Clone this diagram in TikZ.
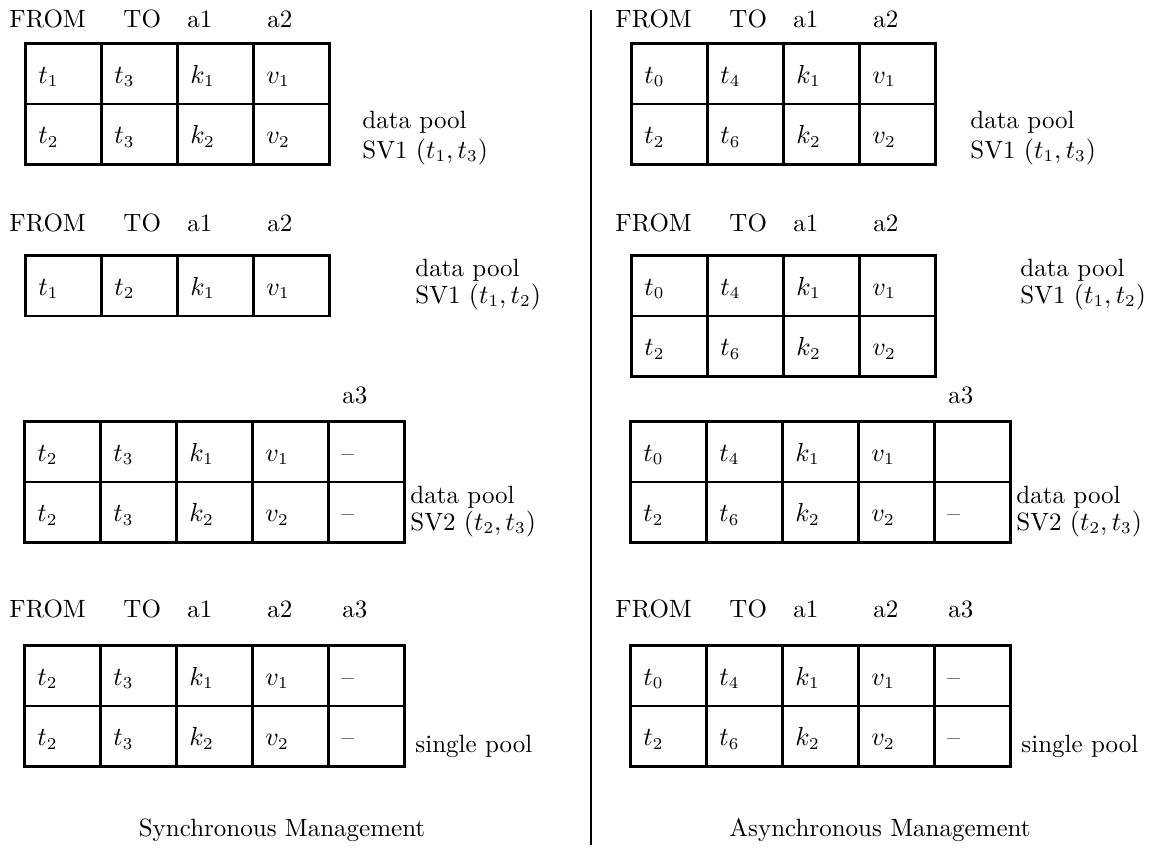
\documentclass[tikz,border=0pt]{standalone}
\newcommand\pxu{0.42pt}
\tikzset{
  every node/.style={font=\fontsize{10.5}{12.6}\selectfont, inner sep=0pt},
  cellbox/.style={draw, line width=1.1pt, minimum width=76*\pxu, minimum height=60.5*\pxu, anchor=north west},
  celltext/.style={anchor=base west},
  headtext/.style={anchor=base west},
  notetext/.style={anchor=base west},
  captext/.style={anchor=base},
  divider/.style={line width=0.9pt},
}
% one table row: name prefix, left x, top y, cell contents
\newcommand\tblrow[4]{%
  \foreach \v [count=\i] in {#4} {
    \node[cellbox] (#1c\i) at ({#2+(\i-1)*76}, #3) {};
    \node[celltext] (#1t\i) at ({#2+(\i-1)*76+14}, {#3+41}) {\v};
  }%
}
% column headings: name prefix, x offset, baseline y, heading/x list
\newcommand\heads[4]{%
  \foreach \h/\hx [count=\i] in {#4} {
    \node[headtext] (#1h\i) at ({#2+\hx}, #3) {\h};
  }%
}
\begin{document}
\begin{tikzpicture}[x=0.42pt, y=-0.42pt]
\useasboundingbox (0,0) rectangle (1163,854);

% ---------------- synchronous management ----------------
\heads{LA}{0}{27}{FROM/9,TO/123,a1/187,a2/267}
\tblrow{LAa}{24}{42}{$t_1$,$t_3$,$k_1$,$v_1$}
\tblrow{LAb}{24}{102.5}{$t_2$,$t_3$,$k_2$,$v_2$}
\node[notetext] (LAn1) at (362,128) {data pool};
\node[notetext] (LAn2) at (362,158) {SV1 $(t_1,t_3)$};

\heads{LB}{0}{231}{FROM/9,TO/123,a1/187,a2/267}
\tblrow{LBa}{24}{254}{$t_1$,$t_2$,$k_1$,$v_1$}
\node[notetext] (LBn1) at (415,276) {data pool};
\node[notetext] (LBn2) at (415,303) {SV1 $(t_1,t_2)$};

\heads{LC}{0}{403}{a3/342}
\tblrow{LCa}{23}{420}{$t_2$,$t_3$,$k_1$,$v_1$,--}
\tblrow{LCb}{23}{480.5}{$t_2$,$t_3$,$k_2$,$v_2$,--}
\node[notetext] (LCn1) at (410,503) {data pool};
\node[notetext] (LCn2) at (410,530) {SV2 $(t_2,t_3)$};

\heads{LD}{0}{617}{FROM/9,TO/123,a1/187,a2/267,a3/342}
\tblrow{LDa}{23}{644}{$t_2$,$t_3$,$k_1$,$v_1$,--}
\tblrow{LDb}{23}{704.5}{$t_2$,$t_3$,$k_2$,$v_2$,--}
\node[notetext] (LDn1) at (415,752) {single pool};

\node[captext] (Lcap) at (282,836) {Synchronous Management};

% ---------------- separator ----------------
\coordinate (sepTop) at (591,10);
\coordinate (sepBot) at (591,845);
\draw[divider] (sepTop) -- (sepBot);

% ---------------- asynchronous management ----------------
\heads{RA}{606}{27}{FROM/9,TO/123,a1/187,a2/267}
\tblrow{RAa}{630}{42}{$t_0$,$t_4$,$k_1$,$v_1$}
\tblrow{RAb}{630}{102.5}{$t_2$,$t_6$,$k_2$,$v_2$}
\node[notetext] (RAn1) at (970,128) {data pool};
\node[notetext] (RAn2) at (970,158) {SV1 $(t_1,t_3)$};

\heads{RB}{606}{231}{FROM/9,TO/123,a1/187,a2/267}
\tblrow{RBa}{630}{254}{$t_0$,$t_4$,$k_1$,$v_1$}
\tblrow{RBb}{630}{314.5}{$t_2$,$t_6$,$k_2$,$v_2$}
\node[notetext] (RBn1) at (1020,276) {data pool};
\node[notetext] (RBn2) at (1020,303) {SV1 $(t_1,t_2)$};

\heads{RC}{606}{403}{a3/342}
\tblrow{RCa}{629}{420}{$t_0$,$t_4$,$k_1$,$v_1$,\mbox{}}
\tblrow{RCb}{629}{480.5}{$t_2$,$t_6$,$k_2$,$v_2$,--}
\node[notetext] (RCn1) at (1016,503) {data pool};
\node[notetext] (RCn2) at (1016,530) {SV2 $(t_2,t_3)$};

\heads{RD}{606}{617}{FROM/9,TO/123,a1/187,a2/267,a3/342}
\tblrow{RDa}{629}{644}{$t_0$,$t_4$,$k_1$,$v_1$,--}
\tblrow{RDb}{629}{704.5}{$t_2$,$t_6$,$k_2$,$v_2$,--}
\node[notetext] (RDn1) at (1021,752) {single pool};

\node[captext] (Rcap) at (880,836) {Asynchronous Management};
\end{tikzpicture}
\end{document}
